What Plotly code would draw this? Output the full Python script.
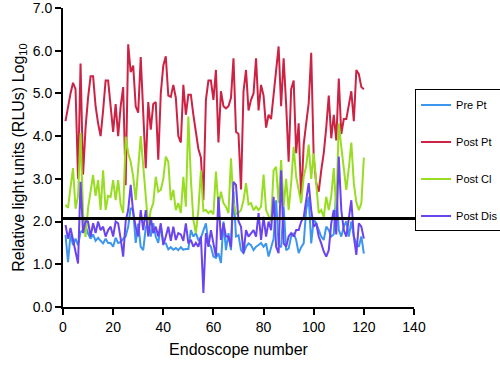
import plotly.graph_objects as go

endoscope = list(range(1, 121))

pre_pt = [1.69, 1.05, 1.7, 1.45, 1.6, 1.45, 1.75, 1.8, 1.9, 1.72,
          1.6, 1.7, 1.55, 1.62, 1.55, 1.49, 1.6, 1.5, 1.5, 1.41,
          1.62, 1.5, 1.52, 1.6, 1.65, 1.88, 2.32, 2.27, 1.5, 1.95,
          1.41, 1.33, 1.85, 2.03, 1.65, 1.96, 1.65, 1.5, 1.9, 1.5,
          1.49, 1.35, 1.4, 1.34, 1.38, 1.33, 1.4, 1.34, 1.36, 1.36,
          1.8, 1.65, 1.73, 1.57, 1.62, 1.78, 1.96, 1.49, 1.41, 1.18,
          1.15, 1.26, 1.03, 2.0, 1.33, 1.73, 1.33, 2.7, 1.65, 1.68,
          1.33, 1.26, 1.41, 1.49, 1.45, 1.33, 1.41, 1.45, 1.5, 1.41,
          1.49, 1.18, 1.41, 1.6, 2.5, 1.45, 1.4, 2.35, 1.33, 1.37,
          1.65, 1.73, 1.57, 1.26, 1.4, 1.49, 2.27, 2.58, 1.49, 2.05,
          1.96, 1.8, 1.65, 1.57, 1.88, 1.8, 1.65, 1.7, 2.74, 1.8,
          1.65, 1.88, 2.01, 1.65, 2.0, 1.65, 1.49, 1.41, 1.65, 1.25]

post_pt = [4.35, 4.7, 5.0, 5.25, 5.1, 3.0, 5.7, 3.1, 4.2, 4.9,
           5.4, 5.4, 4.7, 4.3, 4.0, 4.6, 5.3, 5.3, 4.7, 4.1,
           4.75, 4.0, 4.7, 5.15, 2.85, 6.15, 5.5, 5.65, 4.7, 4.55,
           5.85, 4.5, 3.25, 4.8, 4.15, 4.75, 4.8, 3.45, 5.0, 5.65,
           5.87, 4.95, 4.92, 5.2, 4.9, 4.0, 3.85, 5.2, 4.5, 4.97,
           4.97, 4.5, 4.05, 3.7, 3.5, 2.5, 4.85, 5.3, 5.3, 4.85,
           5.55, 3.85, 5.05, 4.7, 4.65, 4.7, 4.9, 5.82, 4.1, 4.05,
           2.75, 5.05, 5.55, 4.6, 4.85, 5.0, 5.82, 4.6, 5.2, 4.95,
           4.2, 4.5, 4.4, 4.95, 5.5, 6.1, 4.7, 5.82, 4.75, 3.4,
           5.1, 5.3, 3.6, 4.3, 2.5, 3.8, 4.3, 4.77, 5.95, 3.5,
           2.9, 2.7, 3.2, 3.6, 4.2, 4.95, 3.95, 4.5, 3.9, 5.35,
           4.05, 4.4, 4.4, 4.7, 5.05, 4.35, 5.55, 5.45, 5.15, 5.1]

post_cl = [2.39, 2.32, 2.8, 3.25, 2.3, 2.6, 4.07, 2.2, 1.64, 2.32,
           2.7, 3.09, 2.6, 2.97, 2.27, 3.2, 2.27, 2.6, 2.58, 2.97,
           2.5, 2.97, 2.4, 2.2, 3.99, 3.6, 3.4, 3.05, 2.5, 3.3,
           4.0, 3.3, 2.6, 1.9, 2.27, 2.43, 3.05, 2.7, 2.74, 3.0,
           3.52, 3.4, 2.5, 2.74, 2.27, 2.43, 2.2, 3.05, 2.35, 4.46,
           3.0, 2.04, 1.73, 2.27, 3.2, 2.25, 2.27, 2.2, 2.25, 2.17,
           3.17, 2.35, 2.7, 2.43, 2.35, 2.2, 3.48, 2.43, 2.17, 2.2,
           2.27, 2.5, 2.9, 2.4, 2.43, 2.27, 2.35, 2.27, 2.35, 3.1,
           2.27, 2.11, 2.0, 3.2, 3.28, 2.43, 3.44, 2.35, 3.0, 2.27,
           2.9, 3.75, 3.05, 2.74, 2.43, 3.05, 3.3, 3.8, 3.0, 3.6,
           2.97, 2.2, 2.27, 2.11, 2.58, 2.27, 2.6, 3.25, 2.27, 4.3,
           3.75, 3.21, 2.74, 3.25, 3.85, 2.9, 2.45, 2.27, 2.43, 3.5]

post_dis = [1.92, 1.6, 1.85, 1.55, 1.3, 1.02, 2.93, 1.73, 2.01, 2.0,
            1.65, 1.96, 1.73, 2.0, 1.8, 1.88, 1.65, 1.8, 1.88, 1.65,
            2.0, 1.96, 1.6, 1.18, 2.01, 2.27, 2.86, 2.2, 1.88, 1.65,
            2.27, 1.8, 2.27, 1.65, 2.1, 1.73, 1.88, 1.65, 1.96, 1.45,
            1.65, 1.88, 1.55, 1.88, 1.57, 1.73, 1.7, 1.55, 1.96, 1.49,
            1.57, 1.41, 1.5, 1.41, 1.65, 0.33, 1.73, 1.41, 1.8, 1.49,
            1.18, 2.58, 1.57, 1.96, 1.65, 1.65, 1.4, 2.93, 2.86, 2.01,
            1.88, 1.26, 1.8, 1.65, 1.73, 1.8, 1.65, 2.2, 1.57, 2.11,
            1.65, 2.0, 1.8, 2.58, 1.41, 1.26, 3.2, 1.49, 1.41, 1.65,
            1.73, 1.65, 1.8, 1.8, 2.0, 2.1, 2.5, 2.9, 2.27, 1.88,
            1.96, 1.65, 1.49, 1.3, 1.18, 1.33, 1.96, 2.27, 1.7, 3.52,
            2.27, 1.8, 1.65, 2.1, 2.5, 1.65, 1.22, 1.96, 1.88, 1.6]

threshold = 2.07

series = [
    ("Pre Pt", pre_pt, "#3d96ee"),
    ("Post Pt", post_pt, "#cc2244"),
    ("Post Cl", post_cl, "#99dd22"),
    ("Post Dis", post_dis, "#6a44ee"),
]

FONT = "Liberation Sans, Arial, sans-serif"

fig = go.Figure()
for i, (name, vals, col) in enumerate(series):
    fig.add_trace(go.Scatter(
        x=endoscope, y=vals, mode="lines", name=name,
        legendgroup=f"g{i}",
        line=dict(color=col, width=2),
    ))

fig.add_shape(type="line", xref="paper", yref="y",
              x0=0, x1=1.16, y0=threshold, y1=threshold,
              line=dict(color="black", width=3), layer="above")

fig.update_layout(
    width=500, height=365,
    margin=dict(l=63, r=86, t=8, b=58, autoexpand=False),
    paper_bgcolor="white", plot_bgcolor="white",
    font=dict(family=FONT, size=14, color="black"),
    showlegend=True,
    legend=dict(
        x=1.003, xanchor="left", y=0.49, yanchor="middle",
        bordercolor="black", borderwidth=1,
        font=dict(family=FONT, size=11, color="black"),
        tracegroupgap=18, itemwidth=30,
    ),
    xaxis=dict(
        range=[0, 140], tickvals=[0, 20, 40, 60, 80, 100, 120, 140],
        showgrid=False, zeroline=False, automargin=False,
        showline=True, linecolor="black", linewidth=2,
        ticks="outside", ticklen=6, tickwidth=1.5, tickcolor="black",
        title=dict(text="Endoscope number", font=dict(size=16), standoff=10),
    ),
    yaxis=dict(
        range=[0, 7], tickvals=[0, 1, 2, 3, 4, 5, 6, 7],
        ticktext=["0.0", "1.0", "2.0", "3.0", "4.0", "5.0", "6.0", "7.0"],
        showgrid=False, zeroline=False, automargin=False,
        ticklabeloverflow="allow",
        showline=True, linecolor="black", linewidth=2,
        ticks="outside", ticklen=6, tickwidth=1.5, tickcolor="black",
        title=dict(text="Relative light units (RLUs) Log<sub>10</sub>",
                   font=dict(size=16), standoff=4),
    ),
)

fig.write_html("out.html", config={"displayModeBar": False},
               post_script="document.body.style.margin='0';")
